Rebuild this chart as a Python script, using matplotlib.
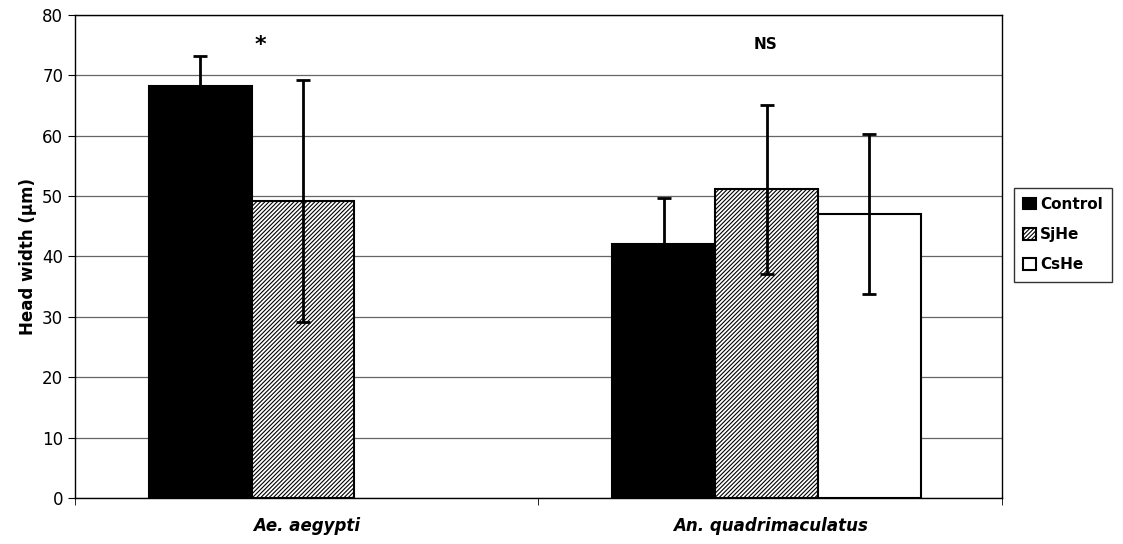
import matplotlib.pyplot as plt
import numpy as np

species = ["Ae. aegypti", "An. quadrimaculatus"]
groups = ["Control", "SjHe", "CsHe"]
means = {
    "Control": [68.2, 42.1],
    "SjHe": [49.2, 51.1],
    "CsHe": [np.nan, 47.0],
}
errs = {
    "Control": [4.9, 7.5],
    "SjHe": [20.0, 14.0],
    "CsHe": [np.nan, 13.2],
}
sig_labels = ["*", "NS"]
sig_y = [75, 75]

plt.rcParams["hatch.linewidth"] = 0.8
fig = plt.figure(figsize=(11.23, 5.44), dpi=100)
ax = fig.add_axes([0.0668, 0.0846, 0.8254, 0.8884])

x = np.arange(len(species))
w = 0.222
styles = {
    "Control": dict(color="black", hatch=None),
    "SjHe": dict(color="white", hatch="////////"),
    "CsHe": dict(color="white", hatch=None),
}
for i, g in enumerate(groups):
    pos = x + (i - 1) * w - 0.008
    ax.bar(pos, means[g], w, color=styles[g]["color"], edgecolor="black",
           linewidth=1.5, hatch=styles[g]["hatch"], label=g, zorder=3)
    ax.errorbar(pos, means[g], yerr=errs[g], fmt="none", ecolor="black",
                elinewidth=2, capsize=5, capthick=2, zorder=4)

for i, s in enumerate(sig_labels):
    ax.text(x[i] - 0.1 if s == "*" else x[i] - 0.01, sig_y[i], s,
            ha="center", va="center", fontweight="bold",
            fontsize=16 if s == "*" else 11)

ax.set_xlim(-0.5, 1.5)
ax.set_ylim(0, 80)
ax.set_yticks(range(0, 81, 10))
ax.yaxis.grid(True, color="#666666", linewidth=0.9, zorder=0)
ax.set_axisbelow(True)
ax.set_xticks(x)
ax.set_xticklabels(species, fontweight="bold", fontstyle="italic", fontsize=12)
ax.set_xticks([-0.5, 0.5, 1.5], minor=True)
ax.tick_params(axis="x", which="major", length=0, pad=14)
ax.tick_params(axis="x", which="minor", length=5, direction="out")
ax.tick_params(axis="y", labelsize=12, length=5, direction="out")
ax.set_ylabel("Head width (µm)", fontweight="bold", fontsize=12)
for sp in ax.spines.values():
    sp.set_color("black")
    sp.set_linewidth(1.0)

ax.legend(loc="center left", bbox_to_anchor=(1.005, 0.545), frameon=True,
          fancybox=False, edgecolor="black", prop={"weight": "bold", "size": 11},
          handlelength=0.8, handleheight=0.8, handletextpad=0.3,
          borderpad=0.6, labelspacing=1.0)

fig.savefig("out.png", dpi=100)
